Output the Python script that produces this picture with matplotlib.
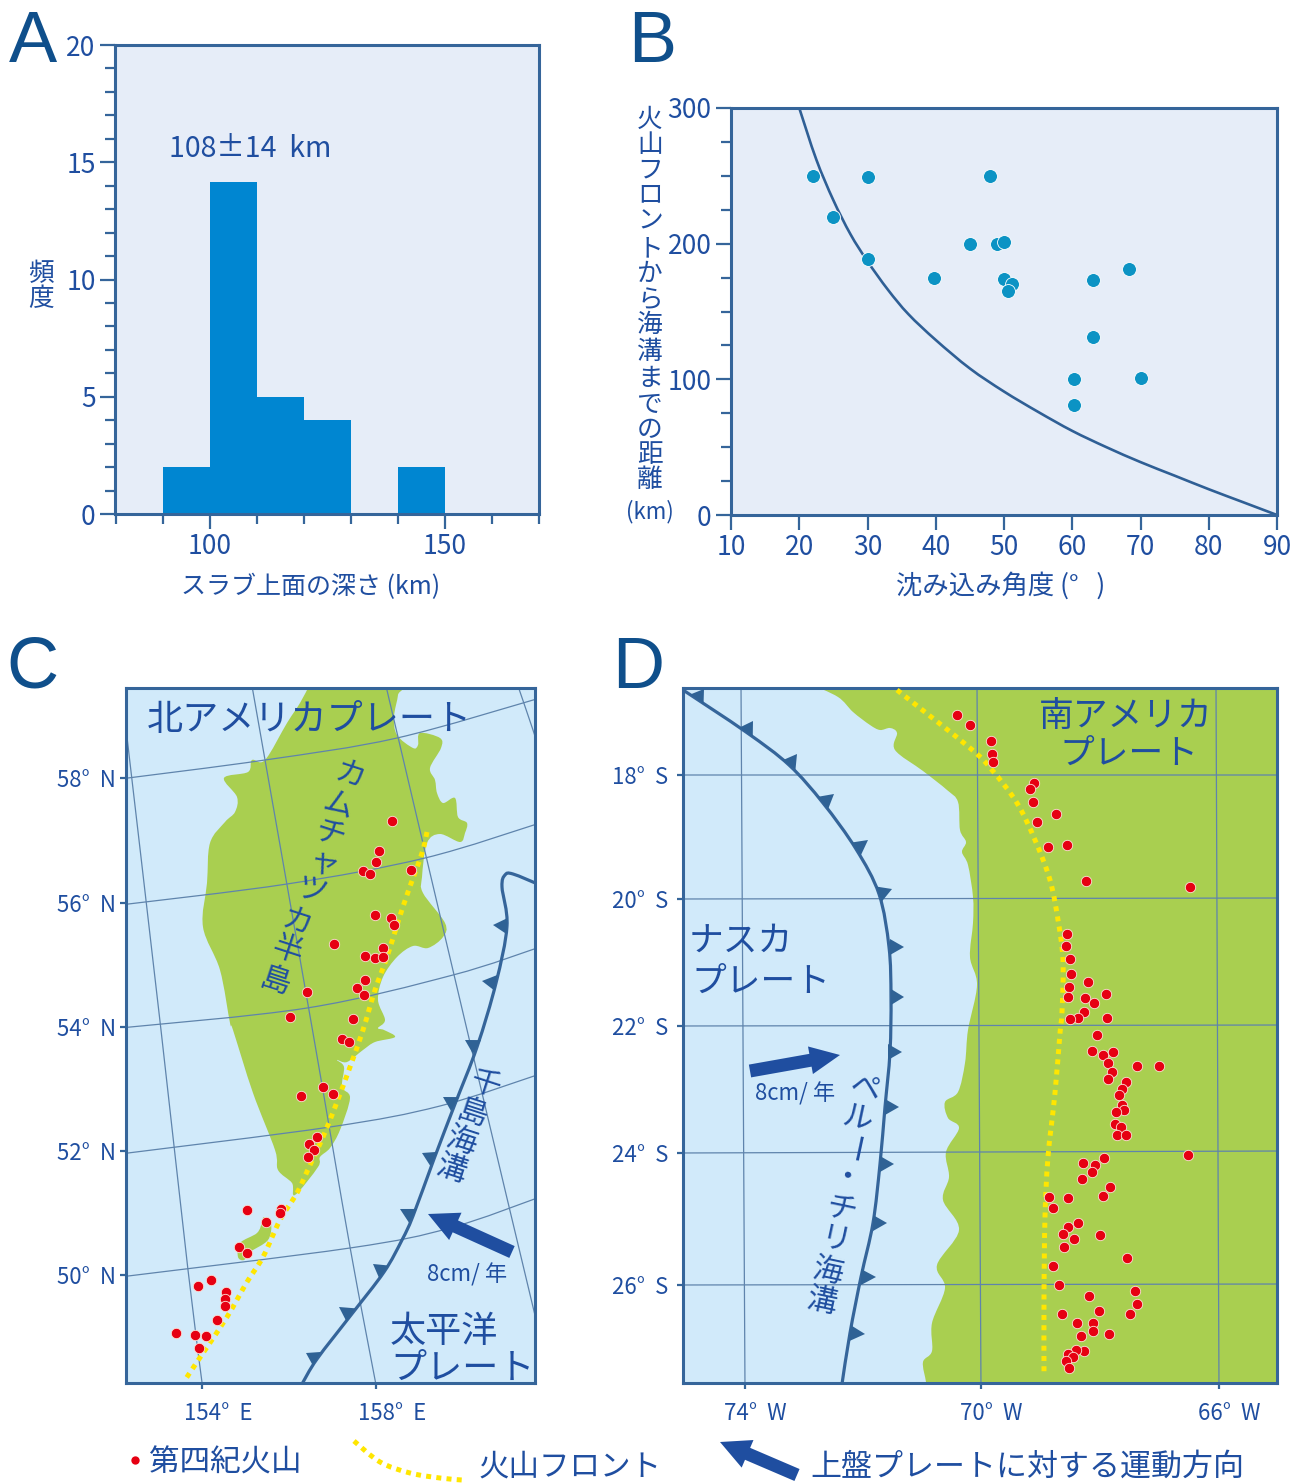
import numpy as np
import matplotlib
matplotlib.use('Agg')
import matplotlib.pyplot as plt
from matplotlib.patches import PathPatch, Polygon, FancyArrow
from matplotlib.path import Path
from matplotlib.transforms import ScaledTranslation

W, H = 1298, 1483
plt.rcParams['font.family'] = ['Noto Sans CJK JP', 'DejaVu Sans']

BLUE = '#1F4EA0'
LINE = '#35659A'
PANEL = '#E6EDF8'
SEA = '#D1EAFA'
LAND = '#A9CF50'
GRID = '#5F84AC'
RED = '#E60012'
YEL = '#FFE600'

# panel A
bar_left = [90, 100, 110, 120, 140]
bar_height = [2, 14.15, 5, 4, 2]

# panel B
angle = [22, 30, 48, 25, 45, 49, 50, 30, 39.7, 50, 51.2, 50.6, 63, 68.3, 63.1, 60.3, 70, 60.2]
dist = [250, 249.5, 250, 220, 200, 200, 201, 189, 175, 174, 170, 165, 173, 181, 131, 100, 101, 81]
curve_a = [20, 22.5, 25, 27.5, 30, 33, 36, 40, 45, 50, 55, 60, 65, 70, 75, 80, 85, 90]
curve_d = [300, 262, 232, 207, 187, 166, 148, 129, 108, 91, 76, 62, 50, 39, 29, 19, 9.5, 0]

# panel C, map positions in picture pixels
c_land_x = [309, 397, 398, 394, 397, 413, 418, 420, 440, 441, 430, 435, 437, 443, 455, 458, 467, 465, 460, 440, 427, 422, 423, 445, 443, 428, 413, 397, 383, 378, 385, 378, 384, 395, 375, 363, 347, 337, 344, 342, 350, 340, 330, 320, 318, 295, 292, 278, 275, 253, 233, 230, 220, 203, 207, 210, 225, 235, 237, 224, 248, 252, 265, 287, 300]
c_land_y = [686, 686, 695, 717, 735, 748, 745, 733, 738, 748, 768, 780, 793, 803, 798, 817, 823, 833, 842, 834, 843, 877, 893, 923, 937, 948, 946, 957, 977, 1000, 1020, 1028, 1030, 1037, 1042, 1050, 1062, 1060, 1067, 1087, 1098, 1130, 1148, 1157, 1167, 1195, 1183, 1170, 1150, 1093, 1030, 1023, 970, 927, 883, 843, 822, 812, 797, 778, 772, 760, 760, 723, 703]
isle_x = [263, 271, 268, 250, 244, 238, 240, 257, 262]
isle_y = [1217, 1223, 1240, 1252, 1260, 1257, 1243, 1233, 1222]
c_parallels = [
    ([120, 265, 397, 540], [779, 760, 738, 698]),
    ([120, 287, 425, 540], [905, 884, 858, 823]),
    ([120, 307, 453, 540], [1028, 1008, 975, 947]),
    ([120, 330, 440, 540], [1154, 1127, 1106, 1074]),
    ([120, 350, 450, 540], [1277, 1248, 1228, 1197]),
]
c_meridians = [
    ([125, 161, 188, 203], [720, 1030, 1270, 1390]),
    ([252, 313, 350, 377], [686, 1033, 1247, 1390]),
    ([386, 468, 533, 540], [686, 1034, 1307, 1335]),
    ([518, 533, 540], [686, 730, 752]),
]
c_front_x = [427, 422, 408, 398, 387, 375, 363, 350, 337, 323, 310, 297, 280, 263, 247, 227, 203, 185]
c_front_y = [832, 853, 892, 922, 957, 990, 1030, 1067, 1102, 1137, 1165, 1193, 1220, 1257, 1282, 1317, 1353, 1380]
c_trench_x = [302, 317, 351, 384, 402, 413, 434, 455, 477, 496, 507, 502, 505, 513, 540]
c_trench_y = [1384, 1359, 1315, 1272, 1240, 1216, 1159, 1104, 1047, 983, 926, 887, 875, 874, 885]
c_tooth_x = [317, 351, 384, 413, 434, 455, 477, 496, 507]
c_tooth_y = [1359, 1315, 1272, 1216, 1159, 1104, 1047, 983, 926]
c_apex_x = [306, 339, 373, 400, 422, 443, 465, 482, 493]
c_apex_y = [1353, 1307, 1264, 1209, 1153, 1097, 1040, 981, 925]
c_volc_x = [392, 379, 376, 363, 370, 411, 375, 391, 394, 334, 383, 365, 375, 383, 365, 357, 364, 307, 290, 353, 342, 349, 323, 333, 301, 317, 309, 314, 308, 247, 281, 280, 266, 239, 247, 211, 198, 226, 225, 225, 217, 176, 195, 206, 199]
c_volc_y = [821, 851, 862, 871, 874, 870, 915, 918, 925, 944, 948, 956, 958, 957, 980, 988, 995, 992, 1017, 1019, 1039, 1042, 1087, 1094, 1096, 1137, 1144, 1150, 1157, 1210, 1209, 1213, 1222, 1247, 1253, 1280, 1286, 1292, 1299, 1306, 1320, 1333, 1335, 1336, 1348]
c_lat_pos = [778, 903, 1027, 1151, 1275]
c_lat_lab = ['58°  N', '56°  N', '54°  N', '52°  N', '50°  N']
c_lon_pos = [202, 376]
c_lon_lab = ['154°  E', '158°  E']

# panel D
d_land_x = [810, 838, 853, 870, 880, 890, 897, 895, 923, 947, 958, 960, 966, 962, 968, 973, 973, 970, 977, 968, 965, 958, 945, 948, 959, 946, 949, 943, 959, 937, 945, 932, 932, 923, 926, 926, 1285, 1285, 810]
d_land_y = [684, 697, 712, 725, 730, 728, 733, 750, 771, 790, 802, 830, 842, 852, 865, 897, 923, 957, 985, 1030, 1063, 1092, 1102, 1118, 1128, 1152, 1177, 1200, 1230, 1265, 1288, 1323, 1351, 1362, 1382, 1390, 1390, 684, 684]
d_parallels = [
    ([676, 1285], [775, 775]),
    ([676, 1285], [899, 898]),
    ([676, 1285], [1026, 1025]),
    ([676, 1285], [1153, 1151]),
    ([676, 1285], [1285, 1284]),
]
d_meridians = [([741, 745], [684, 1390]), ([977, 981], [684, 1390]), ([1216, 1219], [684, 1390])]
d_front_x = [897, 970, 992, 1017, 1035, 1050, 1058, 1063, 1062, 1060, 1055, 1048, 1045, 1044, 1044]
d_front_y = [690, 748, 770, 803, 840, 880, 920, 960, 1012, 1033, 1093, 1157, 1217, 1297, 1375]
d_trench_x = [680, 746, 789, 823, 856, 879, 889, 891, 890, 885, 880, 873, 861, 850, 842]
d_trench_y = [688, 732, 765, 803, 849, 894, 947, 997, 1052, 1107, 1164, 1223, 1277, 1333, 1384]
d_tooth_x = [697, 746, 789, 823, 856, 879, 890, 891, 888, 885, 880, 873, 861, 850]
d_tooth_y = [699, 732, 765, 803, 849, 894, 947, 997, 1052, 1107, 1164, 1223, 1277, 1333]
d_apex_x = [704, 753, 797, 834, 868, 892, 904, 904, 902, 899, 894, 887, 876, 865]
d_apex_y = [689, 721, 754, 794, 840, 889, 947, 997, 1052, 1107, 1164, 1223, 1277, 1334]
d_volc_x = [957, 970, 991, 992, 993, 1034, 1030, 1033, 1056, 1037, 1048, 1067, 1086, 1190, 1067, 1066, 1070, 1071, 1088, 1069, 1068, 1085, 1106, 1094, 1084, 1078, 1070, 1107, 1097, 1092, 1103, 1113, 1108, 1137, 1159, 1112, 1108, 1126, 1122, 1119, 1122, 1124, 1116, 1115, 1121, 1117, 1126, 1188, 1104, 1083, 1095, 1092, 1082, 1110, 1103, 1049, 1068, 1053, 1078, 1068, 1063, 1074, 1100, 1064, 1127, 1053, 1059, 1135, 1089, 1137, 1099, 1130, 1062, 1077, 1093, 1093, 1081, 1109, 1084, 1076, 1068, 1073, 1066, 1069]
d_volc_y = [715, 725, 741, 754, 762, 783, 789, 802, 814, 822, 847, 845, 881, 887, 934, 946, 959, 974, 982, 987, 997, 998, 994, 1003, 1012, 1018, 1019, 1018, 1035, 1051, 1055, 1052, 1063, 1066, 1066, 1072, 1079, 1082, 1089, 1095, 1105, 1110, 1112, 1124, 1127, 1135, 1135, 1155, 1158, 1163, 1165, 1172, 1179, 1187, 1196, 1197, 1198, 1208, 1223, 1227, 1234, 1239, 1235, 1247, 1258, 1266, 1285, 1291, 1296, 1304, 1311, 1314, 1314, 1323, 1323, 1331, 1336, 1334, 1351, 1350, 1354, 1357, 1361, 1368]
d_lat_pos = [775, 899, 1026, 1153, 1285]
d_lat_lab = ['18°  S', '20°  S', '22°  S', '24°  S', '26°  S']
d_lon_pos = [745, 981, 1219]
d_lon_lab = ['74°  W', '70°  W', '66°  W']


def make_ax(x0, y0, x1, y1):
    return fig.add_axes([x0 / W, 1 - y1 / H, (x1 - x0) / W, (y1 - y0) / H])


def smooth(xs, ys):
    # catmull-rom through the traced points, drawn as beziers
    p = np.column_stack([xs, ys]).astype(float)
    q = np.vstack([p[0], p, p[-1]])
    verts = [p[0]]
    codes = [Path.MOVETO]
    for i in range(1, len(q) - 2):
        verts += [q[i] + (q[i + 1] - q[i - 1]) / 6, q[i + 1] - (q[i + 2] - q[i]) / 6, q[i + 1]]
        codes += [Path.CURVE4] * 3
    return Path(verts, codes)


def style_spines(ax, lw=2.2):
    for s in ax.spines.values():
        s.set_color(LINE)
        s.set_linewidth(lw)


def setup_map(ax, x0, y0, x1, y1, lat_pos, lat_lab, lon_pos, lon_lab, lon_shift, lat_pad):
    ax.set_xlim(x0, x1)
    ax.set_ylim(y1, y0)
    ax.set_facecolor(SEA)
    style_spines(ax)
    ax.set_yticks(lat_pos, lat_lab)
    ax.set_xticks(lon_pos, lon_lab)
    ax.tick_params(length=4.5, width=1.6, color=LINE, labelcolor=BLUE, labelsize=16, pad=6)
    ax.tick_params(axis='y', pad=lat_pad)
    off = ScaledTranslation(lon_shift / 100, -4 / 100, fig.dpi_scale_trans)
    for lab in ax.get_xticklabels():
        lab.set_transform(lab.get_transform() + off)


def draw_map(ax, parallels, meridians, front_x, front_y, vx, vy, tr_x, tr_y, tx, ty, ax_, ay_):
    for xs, ys in parallels + meridians:
        ax.add_patch(PathPatch(smooth(xs, ys), fc='none', ec=GRID, lw=0.9, zorder=2))
    ax.add_patch(PathPatch(smooth(front_x, front_y), fc='none', ec=YEL, lw=3.6, capstyle='butt',
                           linestyle=(0, (1, 1.05)), zorder=3))
    ax.scatter(vx, vy, s=56, c=RED, edgecolors='#FBE3D8', linewidths=0.6, zorder=4)
    ax.add_patch(PathPatch(smooth(tr_x, tr_y), fc='none', ec=LINE, lw=2.3, zorder=5))
    for bx, by, px, py in zip(tx, ty, ax_, ay_):
        d = np.array([px - bx, py - by], float)
        n = np.array([-d[1], d[0]]) / np.hypot(*d) * 8
        ax.add_patch(Polygon([[px, py], [bx + n[0], by + n[1]], [bx - n[0], by - n[1]]],
                             fc='#2F6295', ec='none', zorder=5))


fig = plt.figure(figsize=(W / 100, H / 100), dpi=100)

# A
ax = make_ax(115, 45, 539, 514)
ax.set_facecolor(PANEL)
ax.bar(bar_left, bar_height, width=10, align='edge', color='#0086D1', linewidth=0)
ax.plot([80, 83], [0, 0], color='black', lw=1.2, clip_on=False)
ax.set_xlim(79.8, 170)
ax.set_ylim(0, 20)
ax.set_xticks([100, 150])
ax.set_xticks(range(80, 171, 10), minor=True)
ax.set_yticks(range(0, 21, 5))
ax.set_yticks(range(0, 21), minor=True)
ax.tick_params(which='major', length=11, width=1.6, color=LINE, labelcolor=BLUE, labelsize=19, pad=3)
ax.tick_params(which='minor', length=7.5, width=1.6, color=LINE)
style_spines(ax)
ax.text(91.2, 15.55, '108±14  km', color=BLUE, fontsize=20.5, va='center', ha='left')

# B
ax = make_ax(731, 108, 1277, 515)
ax.set_facecolor(PANEL)
ax.add_patch(PathPatch(smooth(curve_a, curve_d), fc='none', ec='#2F5F95', lw=1.9))
ax.scatter(angle, dist, s=100, c='#0C93C4', edgecolors='white', linewidths=0.6, zorder=3)
ax.set_xlim(10, 90)
ax.set_ylim(0, 300)
ax.set_xticks(range(10, 91, 10))
ax.set_yticks(range(0, 301, 100))
ax.set_yticks(range(0, 301, 25), minor=True)
ax.tick_params(which='major', length=11, width=1.6, color=LINE, labelcolor=BLUE, labelsize=19, pad=3)
ax.tick_params(which='minor', axis='y', length=7.5, width=1.6, color=LINE)
style_spines(ax)

# C
ax = make_ax(126, 688, 535, 1383)
setup_map(ax, 126, 688, 535, 1383, c_lat_pos, c_lat_lab, c_lon_pos, c_lon_lab, 16, 2.5)
ax.add_patch(PathPatch(smooth(c_land_x + c_land_x[:1], c_land_y + c_land_y[:1]), fc=LAND, ec='none', zorder=1))
ax.add_patch(PathPatch(smooth(isle_x + isle_x[:1], isle_y + isle_y[:1]), fc=LAND, ec='none', zorder=1))
draw_map(ax, c_parallels, c_meridians, c_front_x, c_front_y, c_volc_x, c_volc_y,
         c_trench_x, c_trench_y, c_tooth_x, c_tooth_y, c_apex_x, c_apex_y)
ax.add_patch(FancyArrow(512, 1252, -84, -38, width=13, head_width=30, head_length=30,
                        length_includes_head=True, fc=BLUE, ec='none', zorder=6))
for s, x, y in [('北アメリカプレート', 309, 720), ('太平洋', 444, 1332), ('プレート', 463, 1369)]:
    ax.text(x, y, s, color=BLUE, fontsize=26, ha='center', va='center', zorder=7)
ax.text(467, 1275, '8cm/ 年', color=BLUE, fontsize=16, ha='center', va='center', zorder=7)
for ch, x, y in zip('カムチャツカ半島', [350, 338, 330, 323, 311, 297, 287, 275], [776, 806, 835, 865, 893, 923, 951, 982]):
    ax.text(x, y, ch, color=BLUE, fontsize=22, rotation=-18, ha='center', va='center', zorder=7)
for ch, x, y in zip('千島海溝', [485, 472, 462, 452], [1085, 1114, 1142, 1170]):
    ax.text(x, y, ch, color=BLUE, fontsize=22, rotation=-18, ha='center', va='center', zorder=7)

# D
ax = make_ax(683, 688, 1277, 1383)
setup_map(ax, 683, 688, 1277, 1383, d_lat_pos, d_lat_lab, d_lon_pos, d_lon_lab, 10, 6)
ax.add_patch(PathPatch(smooth(d_land_x, d_land_y), fc=LAND, ec='none', zorder=1))
draw_map(ax, d_parallels, d_meridians, d_front_x, d_front_y, d_volc_x, d_volc_y,
         d_trench_x, d_trench_y, d_tooth_x, d_tooth_y, d_apex_x, d_apex_y)
ax.add_patch(FancyArrow(750, 1071, 90, -16, width=13, head_width=28, head_length=30,
                        length_includes_head=True, fc=BLUE, ec='none', zorder=6))
for s, x, y in [('南アメリカ', 1126, 716), ('プレート', 1129, 754), ('ナスカ', 741, 941), ('プレート', 761, 982)]:
    ax.text(x, y, s, color=BLUE, fontsize=25, ha='center', va='center', zorder=7)
ax.text(795, 1094, '8cm/ 年', color=BLUE, fontsize=16, ha='center', va='center', zorder=7)
peru_x = [865, 858, 852, 847, 841, 835, 828, 822]
peru_y = [1089, 1119, 1150, 1180, 1210, 1241, 1272, 1302]
for ch, x, y in zip('ペルー・チリ海溝', peru_x, peru_y):
    rot = -102 if ch == 'ー' else -12
    ax.text(x, y, ch, color=BLUE, fontsize=22, rotation=rot, ha='center', va='center', zorder=7)

# letters, axis titles and key drawn over the whole page
top = fig.add_axes([0, 0, 1, 1], facecolor='none')
top.set_xlim(0, W)
top.set_ylim(H, 0)
top.axis('off')
for s, x, y in [('A', 9, 62), ('B', 628, 62), ('C', 6, 688), ('D', 612, 688)]:
    top.text(x, y, s, family='Liberation Sans', color='#0F4F8B', fontsize=52, ha='left', va='baseline')
top.text(311, 587, 'スラブ上面の深さ (km)', color=BLUE, fontsize=18, ha='center', va='center')
top.text(1001, 586, '沈み込み角度 (°   )', color=BLUE, fontsize=19, ha='center', va='center')
for ch, y in zip('頻度', [274, 299]):
    top.text(41, y, ch, color=BLUE, fontsize=18.5, ha='center', va='center')
ylab_y = [120, 145, 170, 195, 222, 249, 274, 300, 325, 352, 379, 405, 430, 455, 480]
for ch, y in zip('火山フロントから海溝までの距離', ylab_y):
    top.text(650, y, ch, color=BLUE, fontsize=18.5, ha='center', va='center')
top.text(650, 512, '(km)', color=BLUE, fontsize=16, ha='center', va='center')

top.scatter([135], [1460], s=36, c=RED, linewidths=0)
top.text(149, 1463, '第四紀火山', color=BLUE, fontsize=22, ha='left', va='center')
top.add_patch(PathPatch(smooth([354, 380, 410, 440, 462], [1441, 1462, 1473, 1478, 1480]), fc='none', ec=YEL,
                        lw=3.6, capstyle='butt', linestyle=(0, (1, 1.05))))
top.text(478, 1467, '火山フロント', color=BLUE, fontsize=22, ha='left', va='center')
top.add_patch(FancyArrow(797, 1475, -77, -33, width=13, head_width=30, head_length=30,
                         length_includes_head=True, fc=BLUE, ec='none'))
top.text(810, 1467, '上盤プレートに対する運動方向', color=BLUE, fontsize=22.3, ha='left', va='center')

fig.savefig('out.png', dpi=100)
